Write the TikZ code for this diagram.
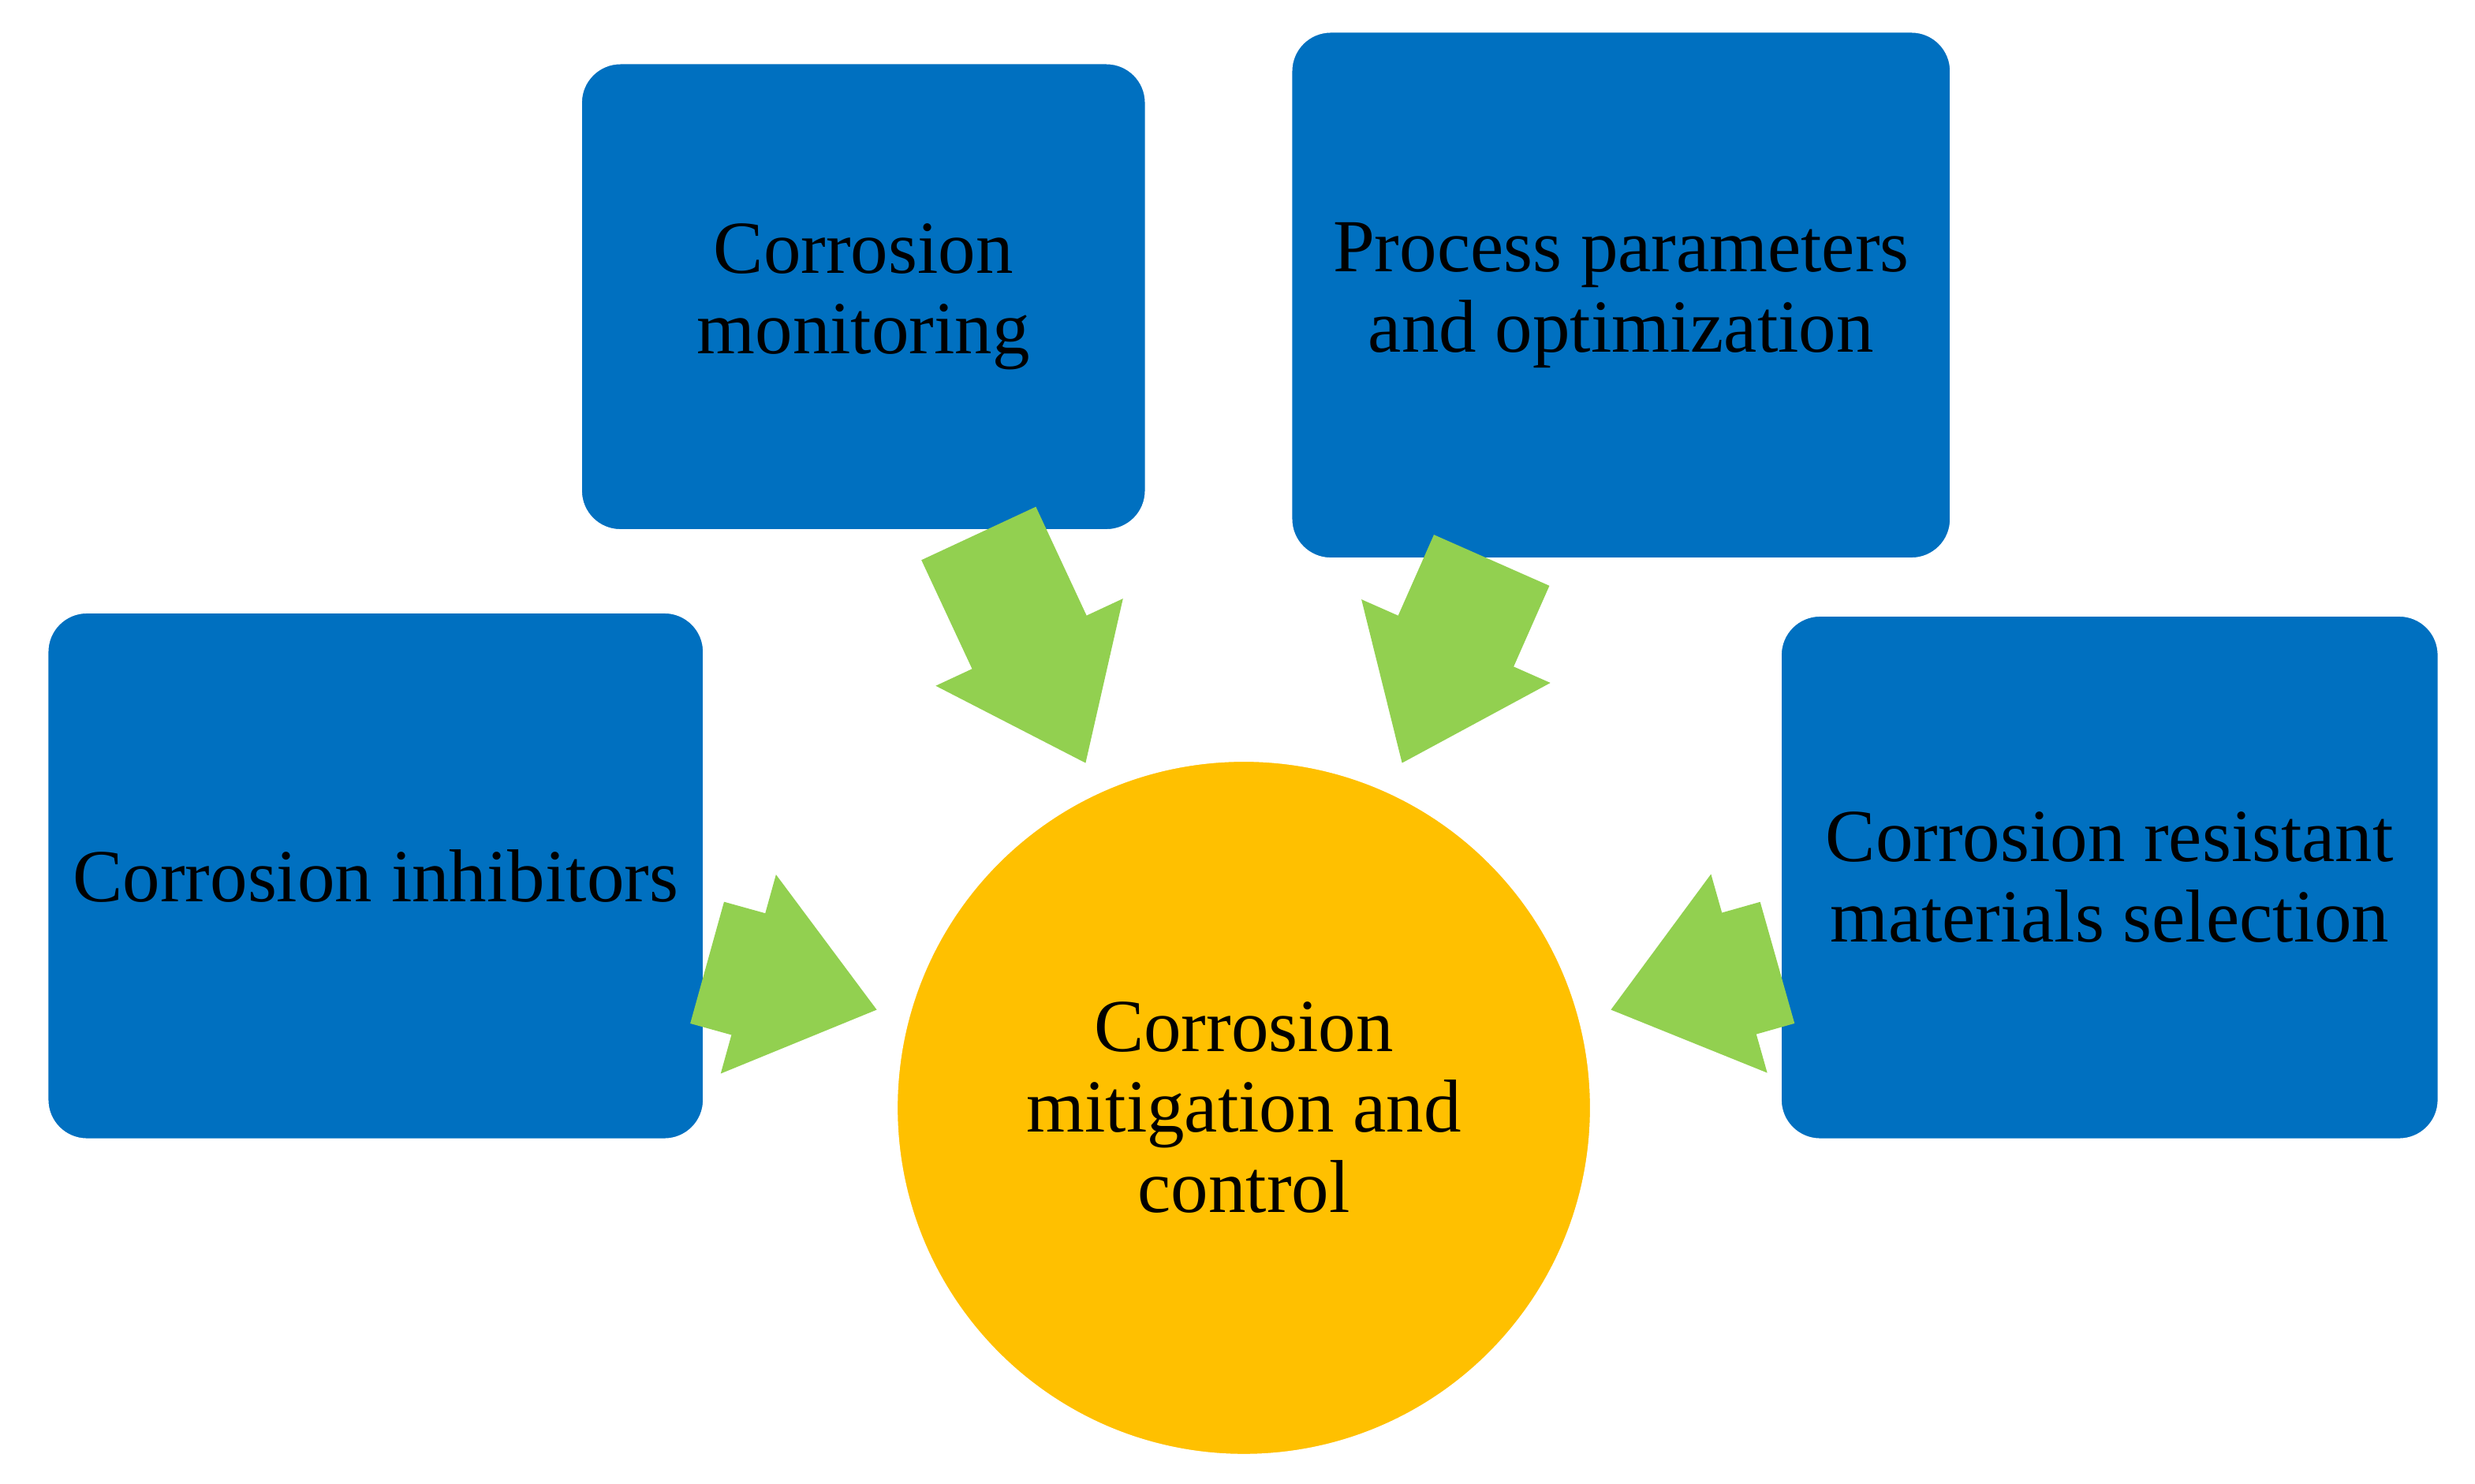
\documentclass[tikz,border=0pt]{standalone}
\usepackage{fontspec}
\setmainfont{Liberation Serif}
\usetikzlibrary{arrows.meta}

\tikzset{
  box/.style={draw=white, thin, fill=boxblue, rounded corners=0.25cm, align=center,
              font=\fontsize{13.5}{14.5}\selectfont, inner sep=0pt},
  fat/.style={draw=arrowgreen, line width=0.8cm, -{Triangle[width=1.25cm,length=0.85cm]}, arrowgreen}
}
\definecolor{boxblue}{HTML}{0070C0}
\definecolor{coregold}{HTML}{FFC000}
\definecolor{arrowgreen}{HTML}{92D050}

\begin{document}
\begin{tikzpicture}
    \useasboundingbox (0,0) rectangle (15.68,-9.4);
    % boxes
    \node[box, minimum width=3.58cm, minimum height=2.96cm] (mon) at (5.47,-1.88) {Corrosion\\monitoring};
    \node[box, minimum width=4.18cm, minimum height=3.34cm] (proc) at (10.27,-1.87) {Process parameters\\and optimization};
    \node[box, minimum width=4.16cm, minimum height=3.34cm] (inh) at (2.38,-5.55) {Corrosion inhibitors};
    \node[box, minimum width=4.17cm, minimum height=3.32cm] (res) at (13.365,-5.56) {Corrosion resistant\\materials selection};
    % centre
    \node[circle, draw=white, fill=coregold, minimum size=4.4cm, align=center,
          font=\fontsize{13.5}{14.5}\selectfont] (core) at (7.88,-7.02) {Corrosion\\mitigation and\\control};
    % arrows
    \coordinate (monA) at (6.2,-3.38);
    \coordinate (monB) at (6.88,-4.84);
    \coordinate (procA) at (9.45,-3.55);
    \coordinate (procB) at (8.88,-4.84);
    \coordinate (inhA) at (4.48,-6.1);
    \coordinate (inhB) at (5.56,-6.4);
    \coordinate (resA) at (11.26,-6.1);
    \coordinate (resB) at (10.2,-6.4);
    \draw[fat] (monA) -- (monB);
    \draw[fat] (procA) -- (procB);
    \draw[fat] (inhA) -- (inhB);
    \draw[fat] (resA) -- (resB);
\end{tikzpicture}
\end{document}
